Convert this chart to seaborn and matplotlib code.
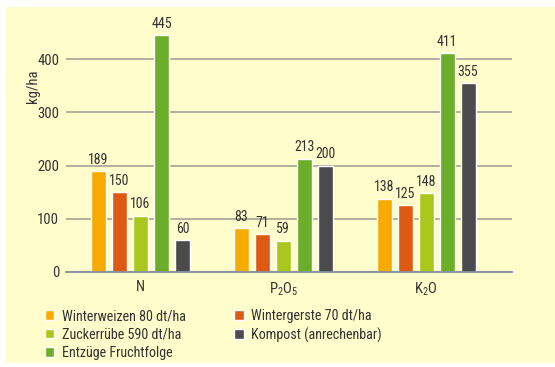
import pandas as pd
import matplotlib
matplotlib.use('Agg')
import matplotlib.pyplot as plt
import seaborn as sns
from matplotlib.patches import Rectangle

# Daten (kg/ha)
naehrstoffe = ['N', 'P$_2$O$_5$', 'K$_2$O']
kulturen = ['Winterweizen 80 dt/ha', 'Wintergerste 70 dt/ha', 'Zuckerrübe 590 dt/ha',
            'Entzüge Fruchtfolge', 'Kompost (anrechenbar)']
winterweizen = [189, 83, 138]
wintergerste = [150, 71, 125]
zuckerruebe = [106, 59, 148]
fruchtfolge = [445, 213, 411]
kompost = [60, 200, 355]
farben = ['#F7AA00', '#DE5A12', '#A9C81B', '#6BAE29', '#4B4B4D']

rows = []
for kultur, werte in zip(kulturen, [winterweizen, wintergerste, zuckerruebe, fruchtfolge, kompost]):
    for n, w in zip(naehrstoffe, werte):
        rows.append({'naehrstoff': n, 'kultur': kultur, 'wert': w})
df = pd.DataFrame(rows)

sns.set_style('white')
plt.rcParams['font.family'] = ['Roboto Condensed', 'DejaVu Sans']
plt.rcParams['mathtext.fontset'] = 'custom'
plt.rcParams['mathtext.rm'] = 'Roboto Condensed'
plt.rcParams['mathtext.it'] = 'Roboto Condensed'

bg = '#FFFDCB'
textcol = '#333333'
fig = plt.figure(figsize=(5.55, 3.67), dpi=100, facecolor='white')
fig.patches.append(Rectangle((6 / 555, 0.012), 1, 1 - 7 / 367 - 0.012, transform=fig.transFigure,
                             facecolor=bg, edgecolor='none', zorder=-10))
ax = fig.add_axes([0.119, 0.259, 0.8035, 0.667])
ax.set_facecolor('none')

sns.barplot(data=df, x='naehrstoff', y='wert', hue='kultur', hue_order=kulturen,
            palette=farben, saturation=1, width=0.735, gap=0.286, ax=ax, legend=True)

for c in ax.containers:
    ax.bar_label(c, padding=3, fontsize=10, color=textcol)

ax.set_ylim(0, 460)
ax.set_xlim(-0.522, 2.602)
ax.set_yticks([0, 100, 200, 300, 400])
ax.yaxis.grid(True, color='#A9A99A', linewidth=1.3)
ax.set_axisbelow(True)
for s in ['top', 'right', 'left']:
    ax.spines[s].set_visible(False)
ax.spines['bottom'].set_color('#8290A4')
ax.spines['bottom'].set_linewidth(1.3)
ax.tick_params(axis='both', length=0, labelsize=10.5, colors=textcol, pad=6)
ax.tick_params(axis='y', pad=5)
ax.set_xlabel('')
ax.set_ylabel('kg/ha', fontsize=10.5, color=textcol)
ax.yaxis.set_label_coords(-0.058, 0.76)

handles, labels = ax.get_legend_handles_labels()
ax.get_legend().remove()
order = [0, 2, 3, 1, 4]
fig.legend([handles[i] for i in order], [labels[i] for i in order], ncol=2,
           loc='upper left', bbox_to_anchor=(0.07, 0.173), frameon=False,
           fontsize=10.2, handlelength=0.7, handleheight=0.7, handletextpad=0.5,
           columnspacing=3.4, labelspacing=0.3, labelcolor=textcol, borderaxespad=0)

fig.savefig('out.png', dpi=100, facecolor='white')
